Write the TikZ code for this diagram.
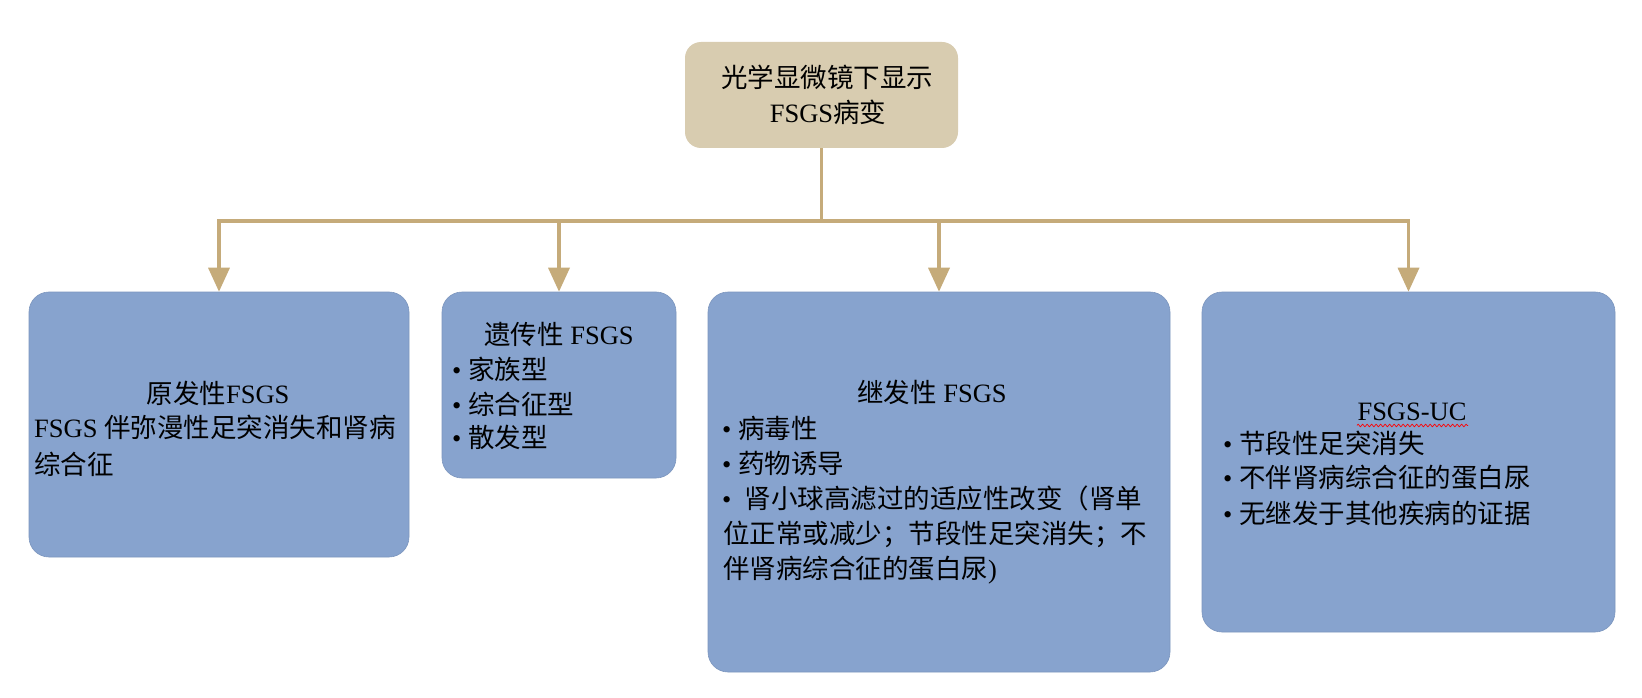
\documentclass[tikz,border=0pt]{standalone}
\usepackage{fontspec}
\setmainfont{Liberation Serif}
\newfontfamily\cjk{Noto Sans CJK SC}
\usetikzlibrary{arrows.meta,decorations.pathmorphing}
\newcommand\zh[1]{{\cjk #1}}
\definecolor{beige}{RGB}{216,204,176}
\definecolor{linetan}{RGB}{197,171,122}
\definecolor{boxblue}{RGB}{135,163,206}
\begin{document}
\begin{tikzpicture}[x=1pt,y=-1pt,font=\fontsize{26.5}{34}\selectfont,
  topbox/.style={rectangle,rounded corners=16pt,fill=beige,inner sep=0pt},
  bluebox/.style={rectangle,rounded corners=20pt,fill=boxblue,draw=boxblue!92!black,line width=0.6pt,inner sep=0pt},
  txt/.style={inner sep=0pt,anchor=base west},
  ctxt/.style={inner sep=0pt,anchor=base},
  conn/.style={draw=linetan,line width=3.5pt},
  arr/.style={conn,-{Triangle[width=21pt,length=24pt]}}]
\fill[white] (0,0) rectangle (1642,698);
\useasboundingbox (0,0) rectangle (1642,698);
% boxes
\node[topbox,minimum width=273pt,minimum height=106pt] (top) at (821.5,95) {};
\node[bluebox,minimum width=380pt,minimum height=265pt] (b1) at (219,424.5) {};
\node[bluebox,minimum width=234pt,minimum height=186pt] (b2) at (559,385) {};
\node[bluebox,minimum width=462pt,minimum height=380pt] (b3) at (939,482) {};
\node[bluebox,minimum width=413pt,minimum height=340pt] (b4) at (1408.5,462) {};
% connectors
\coordinate (bar) at (821.5,221);
\draw[conn] (top.south) -- (bar);
\draw[arr] (bar) -| (b1.north);
\draw[arr] (bar) -| (b2.north);
\draw[arr] (bar) -| (b3.north);
\draw[arr] (bar) -| (b4.north);
% top text
\node[ctxt] (t1) at (827,88) {\zh{光学显微镜下显示}};
\node[ctxt] (t2) at (828,123) {FSGS\zh{病变}};
% box 1
\node[ctxt] (a1) at (218,403) {\zh{原发性}FSGS};
\node[txt] (a2) at (34,437) {FSGS \zh{伴弥漫性足突消失和肾病}};
\node[txt] (a3) at (34,474) {\zh{综合征}};
% box 2
\node[ctxt] (c1) at (559,344) {\zh{遗传性} FSGS};
\node[txt] (c2) at (452,379) {• \zh{家族型}};
\node[txt] (c3) at (452,414) {• \zh{综合征型}};
\node[txt] (c4) at (452,447) {• \zh{散发型}};
% box 3
\node[ctxt] (d1) at (932,402) {\zh{继发性} FSGS};
\node[txt] (d2) at (722,438) {• \zh{病毒性}};
\node[txt] (d3) at (722,473) {• \zh{药物诱导}};
\node[txt] (d4) at (722,508) {•\ \ \zh{肾小球高滤过的适应性改变（肾单}};
\node[txt] (d5) at (723,543) {\zh{位正常或减少；节段性足突消失；不}};
\node[txt] (d6) at (723,578) {\zh{伴肾病综合征的蛋白尿})};
% box 4
\node[ctxt] (e1) at (1412,420) {FSGS-UC};
\draw[red,line width=0.7pt,decorate,decoration={zigzag,amplitude=1.3pt,segment length=4.5pt}] (1357,425.5) -- (1468,425.5);
\node[txt] (e2) at (1223,453) {• \zh{节段性足突消失}};
\node[txt] (e3) at (1223,487) {• \zh{不伴肾病综合征的蛋白尿}};
\node[txt] (e4) at (1223,523) {• \zh{无继发于其他疾病的证据}};
\end{tikzpicture}
\end{document}
